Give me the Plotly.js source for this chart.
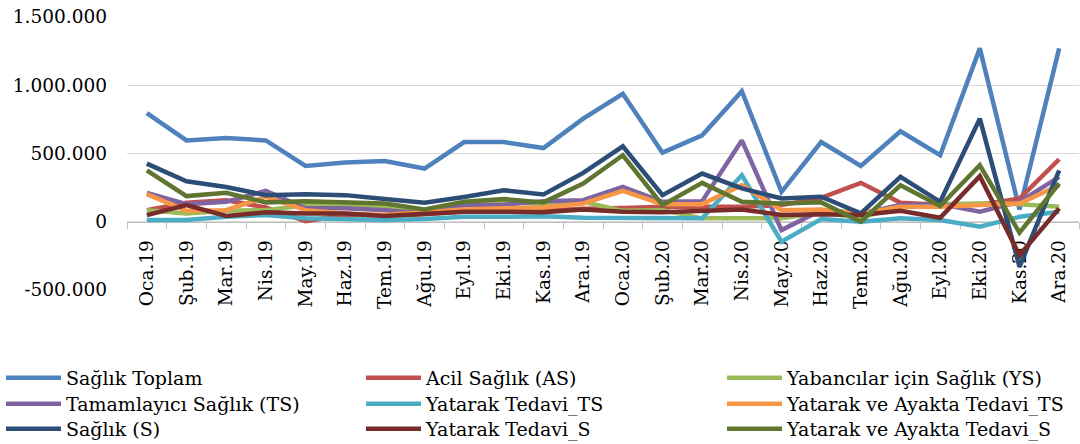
<!DOCTYPE html>
<html>
<head>
<meta charset="utf-8">
<script src="https://cdn.plot.ly/plotly-3.0.1.min.js"></script>
<style>html,body{margin:0;padding:0;background:#fff;}#chart{width:1080px;height:444px;}</style>
</head>
<body>
<div id="chart"></div>
<script>
const categories = ['Oca.19','Şub.19','Mar.19','Nis.19','May.19','Haz.19','Tem.19','Ağu.19','Eyl.19','Eki.19','Kas.19','Ara.19','Oca.20','Şub.20','Mar.20','Nis.20','May.20','Haz.20','Tem.20','Ağu.20','Eyl.20','Eki.20','Kas.20','Ara.20'];

const saglikToplam = [796000, 596000, 613000, 596000, 409000, 434000, 445000, 390000, 584000, 584000, 540000, 755000, 937000, 506000, 633000, 956000, 219000, 584000, 409000, 662000, 487000, 1270000, 90000, 1270000];
const acilSaglik = [85000, 139000, 158000, 105000, 5000, 49000, 45000, 55000, 75000, 85000, 80000, 95000, 100000, 110000, 110000, 110000, 122000, 175000, 285000, 139000, 125000, 125000, 170000, 458000];
const yabancilarSaglik = [85000, 61000, 80000, 85000, 120000, 120000, 110000, 80000, 122000, 146000, 129000, 146000, 80000, 85000, 25000, 25000, 25000, 66000, 32000, 110000, 129000, 134000, 129000, 110000];
const tamamlayiciSaglik = [212000, 129000, 146000, 226000, 98000, 98000, 85000, 61000, 122000, 125000, 150000, 158000, 255000, 146000, 151000, 596000, -61000, 85000, 61000, 122000, 129000, 73000, 146000, 329000];
const yatarakTedaviTS = [12000, 12000, 36000, 49000, 25000, 20000, 12000, 20000, 36000, 36000, 40000, 29000, 25000, 25000, 25000, 341000, -146000, 20000, 0, 25000, 12000, -36000, 36000, 73000];
const yatarakAyaktaTS = [202000, 80000, 85000, 183000, 85000, 61000, 49000, 66000, 90000, 98000, 105000, 134000, 226000, 129000, 129000, 268000, 85000, 90000, 61000, 110000, 110000, 122000, 134000, 268000];
const saglikS = [426000, 297000, 255000, 195000, 202000, 195000, 166000, 139000, 182000, 231000, 200000, 358000, 553000, 195000, 353000, 244000, 171000, 183000, 61000, 329000, 146000, 755000, -330000, 377000];
const yatarakTedaviS = [49000, 122000, 42000, 69000, 61000, 61000, 42000, 61000, 73000, 73000, 69000, 90000, 73000, 69000, 80000, 90000, 49000, 55000, 49000, 80000, 29000, 334000, -245000, 98000];
const yatarakAyaktaS = [377000, 188000, 212000, 142000, 151000, 146000, 134000, 90000, 146000, 166000, 142000, 280000, 487000, 122000, 285000, 146000, 134000, 142000, 0, 268000, 115000, 414000, -80000, 280000];

const seriesNames = ['Sağlık Toplam','Acil Sağlık (AS)','Yabancılar için Sağlık (YS)','Tamamlayıcı Sağlık (TS)','Yatarak Tedavi_TS','Yatarak ve Ayakta Tedavi_TS','Sağlık (S)','Yatarak Tedavi_S','Yatarak ve Ayakta Tedavi_S'];
const seriesValues = [saglikToplam, acilSaglik, yabancilarSaglik, tamamlayiciSaglik, yatarakTedaviTS, yatarakAyaktaTS, saglikS, yatarakTedaviS, yatarakAyaktaS];
const seriesColors = ['#4F81BD','#C0504D','#9BBB59','#8064A2','#4BACC6','#F79646','#2C4D75','#772C2A','#5F7530'];

const yTickVals = [-500000, 0, 500000, 1000000, 1500000];
const yTickText = ['-500.000', '0', '500.000', '1.000.000', '1.500.000'];

const FONT = 'DejaVu Serif';
const legendId = i => (i === 0 ? 'legend' : 'legend' + (i + 1));

const traces = seriesNames.map((name, i) => ({
  type: 'scatter',
  mode: 'lines',
  name: name,
  x: categories,
  y: seriesValues[i],
  line: {color: seriesColors[i], width: 4.5},
  legend: legendId(i),
  hoverinfo: 'skip'
}));

const rowCenters = [378, 404, 429];
const colLefts = [1, 361, 722];
function legendFor(i) {
  return {
    orientation: 'h',
    xref: 'container', yref: 'container',
    x: colLefts[i % 3] / 1080, xanchor: 'left',
    y: 1 - rowCenters[Math.floor(i / 3)] / 444, yanchor: 'middle',
    itemwidth: 55,
    font: {family: FONT, size: 19, color: '#000'},
    bgcolor: 'rgba(0,0,0,0)',
    borderwidth: 0,
    itemclick: false, itemdoubleclick: false
  };
}

const layout = {
  width: 1080,
  height: 444,
  paper_bgcolor: '#fff',
  plot_bgcolor: '#fff',
  margin: {l: 127, r: 1, t: 17, b: 154, pad: 0},
  font: {family: FONT, size: 19, color: '#000'},
  showlegend: true,
  xaxis: {
    type: 'category',
    range: [-0.5, 23.5],
    anchor: 'free',
    position: 0.25,
    showgrid: false,
    showline: true,
    linecolor: '#bfbfbf',
    linewidth: 1,
    ticks: 'outside',
    tickson: 'boundaries',
    ticklen: 6,
    tickcolor: '#bfbfbf',
    tickwidth: 1,
    tickangle: -90,
    ticklabelstandoff: 10,
    tickfont: {family: FONT, size: 18.5, color: '#000'},
    layer: 'below traces',
    zeroline: false,
    fixedrange: true
  },
  yaxis: {
    range: [-500000, 1500000],
    tickvals: yTickVals,
    ticktext: yTickText,
    showgrid: true,
    gridcolor: '#d9d9d9',
    gridwidth: 1.3,
    zeroline: false,
    showline: false,
    ticks: '',
    ticklabelstandoff: 19,
    tickfont: {family: FONT, size: 18.5, color: '#000'},
    fixedrange: true
  }
};
seriesNames.forEach((n, i) => { layout[legendId(i)] = legendFor(i); });

Plotly.newPlot('chart', traces, layout, {displayModeBar: false, staticPlot: true});
</script>
</body>
</html>
